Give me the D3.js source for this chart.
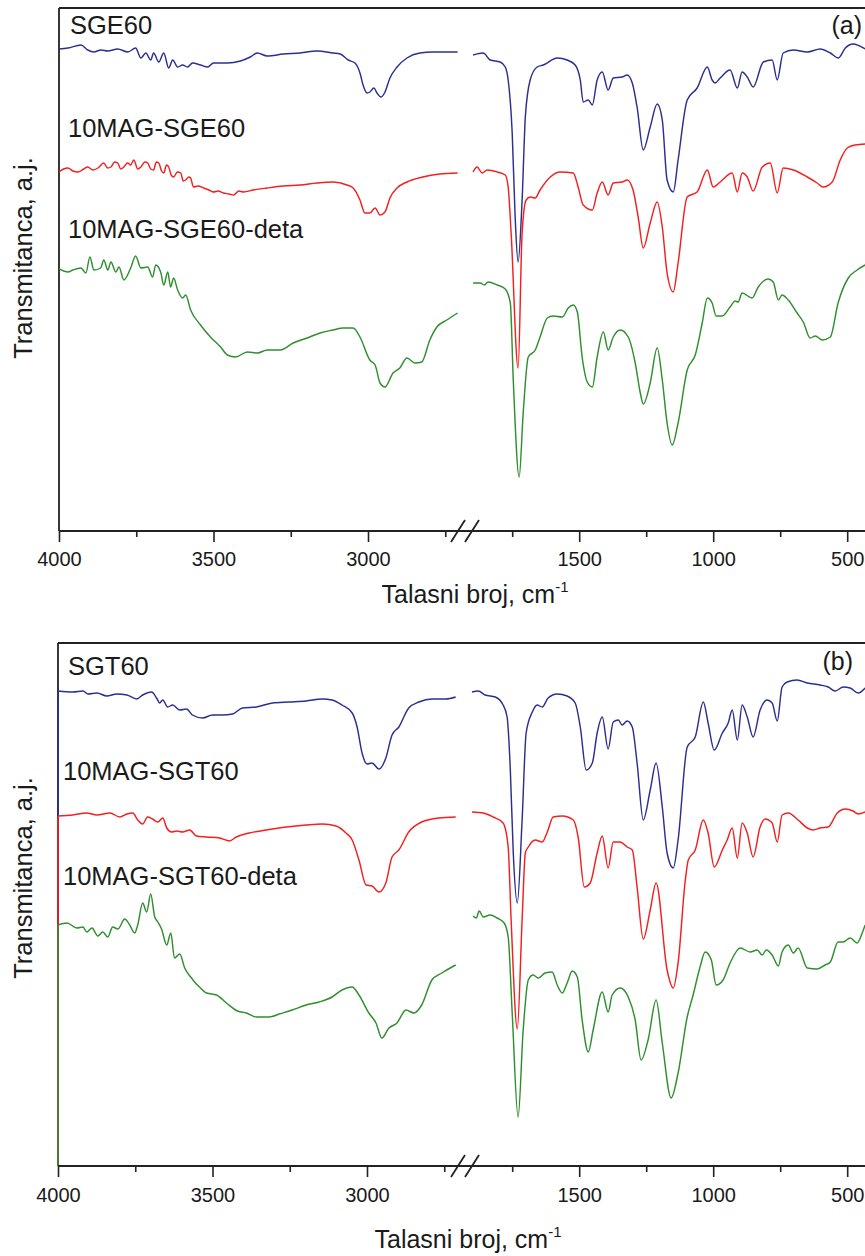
<!DOCTYPE html>
<html><head><meta charset="utf-8">
<script src="https://cdn.jsdelivr.net/npm/d3@7"></script>
<style>body{margin:0;background:#fff}svg{display:block}text{font-family:"Liberation Sans",Arial,sans-serif;fill:#1a1a1a}</style>
</head><body>
<script>
// ---------- tick definitions ----------
const leftMajorTicks = [4000, 3500, 3000];
const leftMinorTicks = [3750, 3250, 2750];
const rightMajorTicks = [1500, 1000, 500];
const rightMinorTicks = [1750, 1250, 750];
const leftDomain = [4000, 2700];
const rightDomain = [1900, 400];
const xTitle = "Talasni broj, cm";
const yTitle = "Transmitanca, a.j.";

// ---------- panel (a) series: [wavenumber, transmittance a.j.] ----------
const sgeBlue = [[4000,482],[3971,483],[3929,486],[3907,481],[3887,479],[3865,481],[3842,480],[3810,482],[3777,479],[3752,483],[3735,473],[3719,478],[3703,471],[3694,478],[3677,469],[3661,478],[3645,463],[3632,471],[3616,464],[3600,466],[3584,464],[3568,468],[3542,466],[3519,464],[3500,468],[3455,468],[3413,470],[3381,474],[3358,478],[3326,475],[3274,477],[3219,478],[3165,480],[3113,478],[3090,477],[3064,471],[3042,468],[3026,458],[3016,446],[3003,438],[2994,439],[2981,443],[2971,438],[2958,434],[2945,439],[2929,453],[2906,464],[2874,473],[2832,478],[2790,479],[2710,479],
[1896,476],[1858,478],[1832,471],[1795,469],[1776,464],[1765,451],[1750,398],[1739,314],[1728,269],[1713,331],[1701,414],[1683,451],[1657,464],[1634,466],[1582,473],[1545,471],[1515,466],[1496,451],[1485,429],[1466,431],[1451,426],[1433,451],[1414,459],[1392,441],[1373,453],[1340,454],[1321,456],[1302,448],[1284,424],[1261,381],[1235,404],[1209,427],[1190,411],[1172,351],[1149,339],[1131,371],[1097,431],[1060,443],[1022,464],[1004,451],[993,448],[974,453],[937,461],[910,443],[892,459],[873,454],[851,444],[813,469],[780,471],[761,451],[739,478],[701,481],[649,479],[601,482],[563,478],[533,473],[507,483],[478,487],[433,482]];

const sgeRed = [[4000,359],[3985,362],[3971,363],[3955,360],[3939,359],[3920,362],[3907,364],[3890,361],[3874,363],[3855,368],[3843,363],[3832,364],[3820,369],[3810,368],[3800,362],[3790,364],[3778,368],[3768,366],[3758,371],[3745,362],[3735,364],[3722,369],[3713,368],[3703,362],[3694,361],[3685,369],[3677,368],[3668,360],[3661,358],[3652,366],[3645,364],[3637,356],[3629,354],[3617,359],[3606,358],[3598,350],[3590,351],[3580,354],[3574,353],[3565,344],[3550,345],[3532,343],[3515,341],[3500,339],[3485,340],[3468,338],[3450,337],[3435,336],[3418,340],[3403,339],[3371,341],[3326,343],[3274,345],[3219,346],[3165,348],[3113,349],[3068,346],[3048,343],[3026,331],[3010,318],[2994,318],[2977,323],[2961,316],[2945,319],[2929,333],[2906,343],[2874,349],[2823,354],[2768,357],[2710,358],
[1896,359],[1881,364],[1862,358],[1843,361],[1806,359],[1776,356],[1765,344],[1754,298],[1728,163],[1713,298],[1698,331],[1683,334],[1664,333],[1646,341],[1608,354],[1571,359],[1522,358],[1504,344],[1485,326],[1451,321],[1433,338],[1414,349],[1392,336],[1373,348],[1340,349],[1321,351],[1299,341],[1280,314],[1261,283],[1235,308],[1209,329],[1190,304],[1172,258],[1149,239],[1131,268],[1097,334],[1060,339],[1022,361],[1000,344],[974,349],[929,358],[910,339],[892,358],[873,354],[851,340],[817,364],[787,368],[761,338],[739,363],[701,361],[649,354],[612,348],[590,344],[556,349],[526,371],[500,383],[470,386],[433,387]];

const sgeGreen = [[4000,262],[3971,259],[3955,261],[3929,263],[3913,258],[3900,274],[3887,261],[3865,263],[3855,271],[3842,261],[3832,269],[3816,259],[3806,264],[3790,251],[3768,263],[3752,275],[3735,263],[3713,264],[3697,254],[3687,266],[3671,259],[3661,246],[3648,259],[3639,244],[3629,253],[3616,241],[3600,233],[3590,236],[3574,221],[3542,206],[3510,194],[3477,184],[3455,176],[3429,174],[3390,179],[3358,178],[3326,181],[3284,181],[3242,188],[3197,193],[3155,198],[3113,201],[3081,203],[3048,203],[3026,194],[2994,171],[2977,166],[2961,148],[2945,144],[2919,158],[2897,163],[2874,173],[2848,168],[2826,169],[2800,191],[2777,204],[2745,211],[2710,218],
[1896,248],[1869,248],[1854,246],[1840,249],[1806,246],[1776,242],[1757,228],[1746,151],[1724,54],[1709,118],[1690,174],[1664,181],[1646,194],[1619,213],[1597,215],[1563,214],[1541,223],[1522,226],[1507,219],[1489,174],[1470,149],[1451,144],[1433,174],[1410,199],[1392,181],[1373,194],[1347,201],[1317,194],[1291,168],[1272,138],[1261,127],[1235,148],[1209,183],[1190,151],[1172,108],[1153,86],[1131,108],[1097,161],[1067,176],[1041,208],[1022,233],[1004,228],[989,215],[966,215],[937,224],[918,230],[907,229],[892,238],[855,233],[832,244],[795,252],[776,249],[757,231],[743,236],[720,231],[687,218],[664,209],[638,193],[619,195],[593,191],[563,194],[534,228],[496,253],[463,261],[433,266]];

// ---------- panel (b) series ----------
const sgtBlue = [[4000,475],[3952,474],[3919,475],[3903,472],[3874,473],[3842,470],[3810,472],[3777,471],[3745,467],[3726,471],[3697,474],[3681,468],[3671,463],[3661,466],[3645,459],[3629,461],[3606,456],[3584,457],[3565,451],[3532,448],[3500,451],[3468,451],[3435,452],[3403,458],[3358,459],[3306,463],[3252,464],[3197,465],[3145,467],[3113,466],[3081,461],[3048,453],[3032,439],[3016,413],[3000,402],[2984,403],[2961,397],[2939,408],[2919,431],[2897,439],[2865,458],[2832,464],[2790,467],[2745,467],[2713,469],
[1900,474],[1877,475],[1851,471],[1813,469],[1784,461],[1769,449],[1757,396],[1746,313],[1731,263],[1713,346],[1698,433],[1675,454],[1657,461],[1638,459],[1616,468],[1582,472],[1545,470],[1515,463],[1496,439],[1474,396],[1451,403],[1433,433],[1414,449],[1392,417],[1373,444],[1354,446],[1340,441],[1321,445],[1302,439],[1284,403],[1261,346],[1235,376],[1213,403],[1190,359],[1172,313],[1149,298],[1131,326],[1097,419],[1067,429],[1037,464],[1019,443],[996,416],[966,433],[944,443],[929,456],[910,426],[892,461],[873,449],[851,429],[825,456],[799,466],[780,463],[761,445],[743,479],[724,484],[687,486],[649,483],[601,481],[571,479],[545,475],[515,479],[489,478],[459,473],[433,478]];

const sgtRed = [[4000,350],[3952,351],[3907,353],[3874,351],[3832,353],[3800,349],[3777,352],[3758,353],[3742,346],[3726,342],[3710,349],[3694,347],[3677,344],[3661,348],[3648,338],[3632,334],[3616,335],[3597,334],[3574,336],[3552,330],[3519,329],[3477,328],[3445,325],[3423,329],[3381,333],[3326,336],[3261,339],[3197,341],[3145,342],[3100,340],[3068,333],[3048,326],[3026,306],[3003,281],[2984,280],[2961,274],[2939,283],[2919,309],[2897,316],[2865,334],[2823,344],[2768,348],[2713,349],
[1900,354],[1858,353],[1821,349],[1784,343],[1765,319],[1754,246],[1731,137],[1713,246],[1701,313],[1690,319],[1664,326],[1638,324],[1619,334],[1597,349],[1563,350],[1522,346],[1504,329],[1481,279],[1459,283],[1433,313],[1414,330],[1392,298],[1373,324],[1347,324],[1321,319],[1302,316],[1284,279],[1261,227],[1235,256],[1213,283],[1172,196],[1149,178],[1131,203],[1104,286],[1093,306],[1067,316],[1037,346],[1019,333],[996,299],[966,316],[948,326],[929,338],[910,308],[892,343],[873,333],[851,309],[825,339],[806,347],[780,343],[761,324],[743,351],[720,353],[683,346],[649,338],[627,336],[601,338],[571,339],[537,353],[507,357],[478,355],[459,352],[433,354]];

const sgtGreen = [[4000,241],[3971,243],[3939,238],[3919,239],[3907,234],[3890,238],[3871,230],[3855,234],[3839,229],[3823,239],[3806,237],[3784,247],[3768,241],[3752,233],[3742,241],[3726,263],[3713,254],[3700,272],[3687,249],[3677,244],[3665,237],[3648,221],[3635,233],[3623,208],[3606,212],[3590,198],[3568,188],[3558,184],[3542,179],[3519,173],[3487,171],[3455,163],[3419,155],[3390,153],[3358,149],[3316,149],[3284,152],[3242,156],[3197,161],[3155,164],[3113,169],[3081,176],[3048,179],[3026,171],[2994,153],[2971,143],[2952,128],[2929,138],[2903,143],[2874,156],[2848,153],[2823,161],[2790,186],[2758,193],[2713,201],
[1896,250],[1884,248],[1873,255],[1858,249],[1832,251],[1806,248],[1780,243],[1765,229],[1750,153],[1728,49],[1709,136],[1690,186],[1672,191],[1653,188],[1627,193],[1601,194],[1582,181],[1563,173],[1545,183],[1526,195],[1507,189],[1489,146],[1466,114],[1448,136],[1414,174],[1392,154],[1377,171],[1347,178],[1317,169],[1291,146],[1269,106],[1243,126],[1213,166],[1190,123],[1157,68],[1131,93],[1097,149],[1075,171],[1049,199],[1030,214],[1007,206],[989,181],[963,186],[937,203],[899,218],[862,214],[836,216],[817,211],[802,216],[780,211],[757,200],[743,214],[720,221],[701,213],[683,218],[649,198],[612,197],[582,201],[563,204],[534,224],[515,224],[489,228],[463,223],[444,233],[433,241]];

const seriesColors = ["#2b2f91", "#f41f1f", "#2f8f2f"];
const panels = [
  {top: 8, bottom: 531, left: 59, series: [sgeBlue, sgeRed, sgeGreen], drops: false,
   labels: [["SGE60", 70, 34], ["10MAG-SGE60", 68, 137], ["10MAG-SGE60-deta", 68, 238]],
   tag: ["(a)", 862, 34], xTitleX: 475, xTitleY: 603, tickY: 566, yTitleC: 258},
  {top: 643, bottom: 1166, left: 58, series: [sgtBlue, sgtRed, sgtGreen], drops: true,
   labels: [["SGT60", 68, 675], ["10MAG-SGT60", 63, 780], ["10MAG-SGT60-deta", 63, 885]],
   tag: ["(b)", 853, 670], xTitleX: 468, xTitleY: 1248, tickY: 1202, yTitleC: 878}
];

const W = 865, H = 1256;
const svg = d3.select("body").append("svg").attr("width", W).attr("height", H);
const axisColor = "#222";

panels.forEach((p, pi) => {
  const xL = d3.scaleLinear().domain(leftDomain).range([p.left, p.left + 1300 * 0.309]);
  const xR = d3.scaleLinear().domain(rightDomain).range([472, 472 + 1500 * 0.268]);
  const y = d3.scaleLinear().domain([0, p.bottom - p.top]).range([p.bottom, p.top]);
  const g = svg.append("g");

  const clipId = "clip" + pi;
  svg.append("clipPath").attr("id", clipId).append("rect")
    .attr("x", p.left).attr("y", p.top).attr("width", W - p.left).attr("height", p.bottom - p.top);

  // frame: top & left
  g.append("line").attr("x1", p.left).attr("x2", W + 5).attr("y1", p.top).attr("y2", p.top)
    .attr("stroke", axisColor).attr("stroke-width", 1.8);
  g.append("line").attr("x1", p.left).attr("x2", p.left).attr("y1", p.top).attr("y2", p.bottom)
    .attr("stroke", axisColor).attr("stroke-width", 1.8);

  // spectra
  const lineL = d3.line().x(d => xL(d[0])).y(d => y(d[1])).curve(d3.curveMonotoneX);
  const lineR = d3.line().x(d => xR(d[0])).y(d => y(d[1])).curve(d3.curveMonotoneX);
  p.series.forEach((s, si) => {
    const leftPart = s.filter(d => d[0] > 2300);
    const rightPart = s.filter(d => d[0] < 2300);
    [[leftPart, lineL], [rightPart, lineR]].forEach(([data, ln]) => {
      g.append("path").attr("d", ln(data)).attr("fill", "none")
        .attr("stroke", seriesColors[si]).attr("stroke-width", 1.45)
        .attr("stroke-linejoin", "round").attr("clip-path", `url(#${clipId})`);
    });
    if (p.drops) {
      // spectrum's starting edge drawn down the left axis (as in the source figure)
      g.append("line").attr("x1", xL(s[0][0])).attr("x2", xL(s[0][0]))
        .attr("y1", y(s[0][1])).attr("y2", y(0))
        .attr("stroke", seriesColors[si]).attr("stroke-width", 1.6);
    }
  });

  // bottom axes (two segments)
  const axL = d3.axisBottom(xL).tickValues(leftMajorTicks).tickSize(11).tickSizeOuter(0).tickFormat(d3.format("d"));
  const axR = d3.axisBottom(xR).tickValues(rightMajorTicks).tickSize(11).tickSizeOuter(0).tickFormat(d3.format("d"));
  const axLm = d3.axisBottom(xL).tickValues(leftMinorTicks).tickSize(6).tickFormat("");
  const axRm = d3.axisBottom(xR).tickValues(rightMinorTicks).tickSize(6).tickFormat("");
  [axL, axR, axLm, axRm].forEach(ax => {
    const a = g.append("g").attr("transform", `translate(0,${p.bottom})`).call(ax);
    a.select(".domain").remove();
    a.selectAll(".tick line").attr("stroke", axisColor).attr("stroke-width", 1.6);
    a.selectAll(".tick text").attr("font-size", 20).attr("fill", "#1a1a1a")
      .attr("font-family", '"Liberation Sans", Arial, sans-serif')
      .attr("y", p.tickY - p.bottom).attr("dy", null);
  });
  // continuous axis line with break marks
  g.append("line").attr("x1", p.left).attr("x2", W + 5).attr("y1", p.bottom).attr("y2", p.bottom)
    .attr("stroke", axisColor).attr("stroke-width", 1.8);
  [458, 472].forEach(bx => {
    g.append("line").attr("x1", bx - 7).attr("y1", p.bottom + 11).attr("x2", bx + 7).attr("y2", p.bottom - 11)
      .attr("stroke", axisColor).attr("stroke-width", 1.8);
  });

  // labels
  p.labels.forEach(([t, lx, ly]) => {
    g.append("text").attr("x", lx).attr("y", ly).attr("font-size", 25.5).text(t);
  });
  g.append("text").attr("x", p.tag[1]).attr("y", p.tag[2]).attr("font-size", 25)
    .attr("text-anchor", "end").text(p.tag[0]);

  // axis titles
  const xt = g.append("text").attr("x", p.xTitleX).attr("y", p.xTitleY)
    .attr("font-size", 25).attr("text-anchor", "middle").text(xTitle);
  xt.append("tspan").attr("font-size", 15).attr("dy", -11).text("-1");
  g.append("text").attr("transform", `translate(32,${p.yTitleC}) rotate(-90)`)
    .attr("font-size", 25.5).attr("text-anchor", "middle").text(yTitle);
});
</script>
</body></html>
